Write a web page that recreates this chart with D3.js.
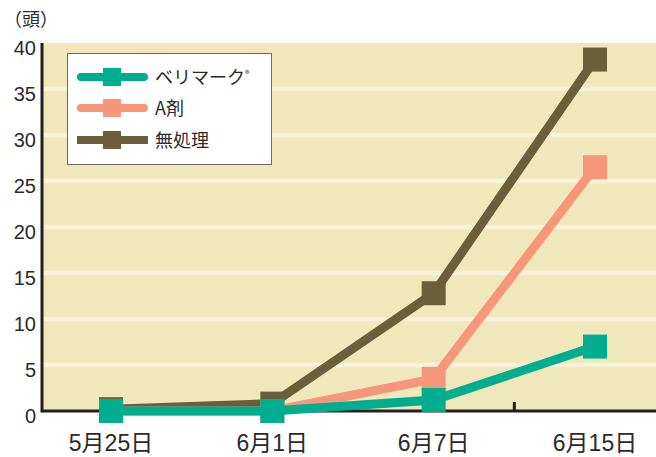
<!DOCTYPE html>
<html><head><meta charset="utf-8">
<script src="https://cdn.jsdelivr.net/npm/d3@7"></script>
<style>
html,body{margin:0;padding:0;background:#fff;}
svg{display:block;font-family:"Liberation Sans","Noto Sans CJK JP",sans-serif;}
</style></head>
<body>
<svg id="c" width="656" height="457"></svg>
<script>
const categories = ["5月25日","6月1日","6月7日","6月15日"];
const seriesNames = ["ベリマーク","A剤","無処理"];
const verimark = [0, 0, 1.2, 7.0];
const agent = [0, 0, 3.5, 26.5];
const untreated = [0.2, 0.8, 12.8, 38.2];
const yTicks = [0,5,10,15,20,25,30,35,40];
const colors = ["#00ad8e","#f6977b","#6c5d3b"];

const svg = d3.select("#c");
const pL = 42, pR = 656, pT = 43, pB = 411;

const x = d3.scalePoint().domain(categories).range([111, 595]);
const y = d3.scaleLinear().domain([0,40]).range([pB, pT]);

// plot background
svg.append("rect").attr("x", pL).attr("y", pT).attr("width", pR-pL).attr("height", pB-pT).attr("fill", "#f0e7bb");

// grid stripes
svg.selectAll(".grid").data(yTicks.filter(d => d > 0 && d < 40)).enter().append("line")
  .attr("x1", pL).attr("x2", pR).attr("y1", d => y(d)).attr("y2", d => y(d))
  .attr("stroke", "#f8f2dc").attr("stroke-width", 4.5);

// y tick labels
svg.selectAll(".yl").data(yTicks).enter().append("text")
  .attr("x", 36).attr("y", d => y(d) + 12).attr("text-anchor", "end")
  .attr("font-size", 20).attr("fill", "#2a2a2a").text(d => d);

// unit label
svg.append("text").attr("x", 4).attr("y", 26).attr("font-size", 18).attr("fill", "#2a2a2a")
  .attr("font-family", "Noto Sans CJK JP").text("（頭）");

// x tick marks between categories
const mids = categories.slice(0,-1).map((c,i) => (x(c) + x(categories[i+1]))/2);
svg.selectAll(".xt").data(mids).enter().append("line")
  .attr("x1", d => d).attr("x2", d => d).attr("y1", pB).attr("y2", pB - 9)
  .attr("stroke", "#231f20").attr("stroke-width", 3);

// axes lines
svg.append("line").attr("x1", pL).attr("x2", pR).attr("y1", pB).attr("y2", pB)
  .attr("stroke", "#231f20").attr("stroke-width", 3);
svg.append("line").attr("x1", pL).attr("x2", pL).attr("y1", pT).attr("y2", pB+1.5)
  .attr("stroke", "#231f20").attr("stroke-width", 3);

// x labels
svg.selectAll(".xl").data(categories).enter().append("text")
  .attr("x", d => x(d)).attr("y", 451).attr("text-anchor", "middle")
  .attr("font-size", 23).attr("fill", "#2a2a2a").text(d => d);

// series
const data = [verimark, agent, untreated];
const line = d3.line().x((d,i) => x(categories[i])).y(d => y(d));
const ms = 24;
[2,1,0].forEach(si => {
  const vals = data[si];
  svg.append("path").attr("d", line(vals)).attr("fill", "none")
    .attr("stroke", colors[si]).attr("stroke-width", 9).attr("stroke-linejoin", "miter");
  svg.selectAll(".m"+si).data(vals).enter().append("rect")
    .attr("x", (d,i) => x(categories[i]) - ms/2).attr("y", d => y(d) - ms/2)
    .attr("width", ms).attr("height", ms).attr("fill", colors[si]);
});

// legend
const lg = svg.append("g");
lg.append("rect").attr("x", 67.5).attr("y", 53.5).attr("width", 204).attr("height", 111)
  .attr("fill", "#fff").attr("stroke", "#6b6b6b").attr("stroke-width", 1);
const rowsY = [77, 108, 140];
seriesNames.forEach((n, i) => {
  lg.append("line").attr("x1", i < 2 ? 81 : 77).attr("x2", i < 2 ? 144 : 148)
    .attr("y1", rowsY[i]).attr("y2", rowsY[i]).attr("stroke", colors[i]).attr("stroke-width", 8)
    .attr("stroke-linecap", i < 2 ? "round" : "butt");
  lg.append("rect").attr("x", 112 - 9).attr("y", rowsY[i] - 9).attr("width", 18).attr("height", 18).attr("fill", colors[i]);
  const t = lg.append("text").attr("x", 155).attr("y", rowsY[i] + 7).attr("font-size", 18)
    .attr("fill", "#2a2a2a").attr("font-family", "Noto Sans CJK JP").text(n);
  if (i === 0) t.append("tspan").attr("font-size", 9).attr("dy", -7).text("®");
});
</script>
</body></html>
